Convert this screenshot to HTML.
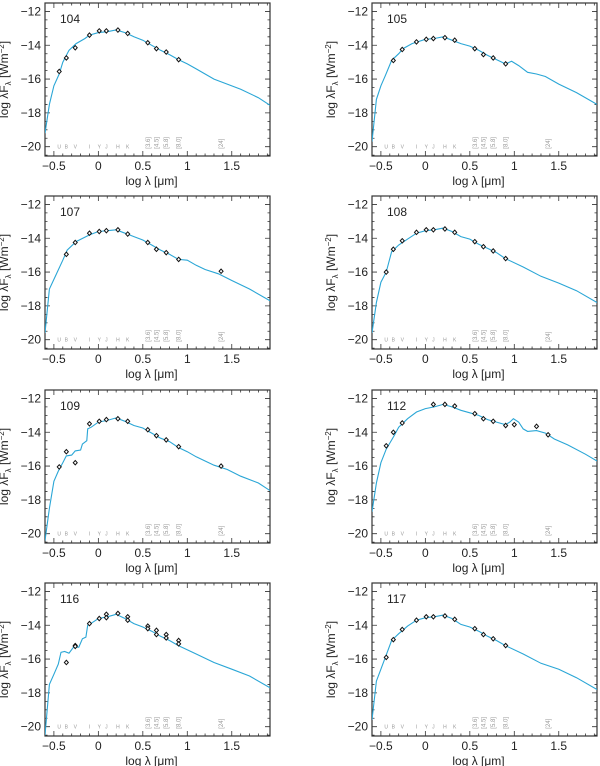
<!DOCTYPE html>
<html><head><meta charset="utf-8"><style>
html,body{margin:0;padding:0;background:#fff}
svg{display:block}
text{font-family:"Liberation Sans",sans-serif}
</style></head><body>
<svg id="fig" width="600" height="766" viewBox="0 0 600 766"></svg>
<script>
const bandLam = [-0.44,-0.36,-0.26,-0.1,0.01,0.09,0.22,0.33];
const bandNames = ["U","B","V","I","Y","J","H","K"];
const iracLam = [0.556,0.653,0.763,0.903,1.38];
const iracNames = ["[3.6]","[4.5]","[5.8]","[8.0]","[24]"];
const xTicks = [-0.5,0,0.5,1,1.5];
const xTickLabels = ["−0.5","0","0.5","1","1.5"];
const yTicks = [-12,-14,-16,-18,-20];
const yTickLabels = ["−12","−14","−16","−18","−20"];

const lam104 = [-0.6,-0.55,-0.5,-0.44,-0.4,-0.33,-0.25,-0.15,-0.1,0,0.1,0.2,0.3,0.4,0.5,0.6,0.7,0.8,0.9,1.0,1.1,1.2,1.3,1.4,1.6,1.8,1.93];
const flux104 = [-19.2,-17.5,-16.4,-15.7,-15,-14.3,-13.9,-13.6,-13.4,-13.25,-13.2,-13.1,-13.25,-13.5,-13.7,-14,-14.3,-14.55,-14.85,-15.1,-15.4,-15.7,-16.0,-16.2,-16.6,-17.1,-17.55];
const pLam104 = [-0.44,-0.36,-0.26,-0.1,0.01,0.09,0.22,0.33,0.556,0.653,0.763,0.903];
const pFlux104 = [-15.55,-14.75,-14.15,-13.4,-13.15,-13.15,-13.1,-13.3,-13.85,-14.2,-14.4,-14.85];

const lam105 = [-0.6,-0.55,-0.5,-0.45,-0.38,-0.3,-0.25,-0.15,0,0.1,0.2,0.3,0.4,0.5,0.6,0.7,0.8,0.9,0.97,1.05,1.15,1.25,1.35,1.5,1.7,1.93];
const flux105 = [-19.7,-17.2,-16.4,-15.8,-14.9,-14.5,-14.2,-13.9,-13.65,-13.6,-13.5,-13.7,-13.9,-14.05,-14.3,-14.6,-14.85,-15.1,-14.95,-15.2,-15.6,-15.7,-15.85,-16.3,-16.8,-17.5];
const pLam105 = [-0.36,-0.26,-0.1,0.01,0.09,0.22,0.33,0.556,0.653,0.763,0.903];
const pFlux105 = [-14.9,-14.25,-13.8,-13.65,-13.6,-13.55,-13.7,-14.2,-14.55,-14.75,-15.1];

const lam107 = [-0.6,-0.55,-0.48,-0.4,-0.35,-0.25,-0.1,0,0.1,0.2,0.3,0.4,0.5,0.6,0.7,0.8,0.9,1.0,1.1,1.2,1.35,1.5,1.7,1.93];
const flux107 = [-19.6,-17.0,-16.2,-15.3,-14.7,-14.2,-13.8,-13.6,-13.55,-13.5,-13.7,-13.9,-14.1,-14.4,-14.7,-14.95,-15.25,-15.3,-15.6,-15.85,-16.1,-16.5,-17.0,-17.7];
const pLam107 = [-0.36,-0.26,-0.1,0.01,0.09,0.22,0.33,0.556,0.653,0.763,0.903,1.38];
const pFlux107 = [-14.95,-14.25,-13.7,-13.6,-13.55,-13.5,-13.75,-14.25,-14.65,-14.85,-15.25,-15.95];

const lam108 = [-0.6,-0.55,-0.5,-0.44,-0.38,-0.3,-0.2,-0.1,0,0.1,0.2,0.3,0.4,0.5,0.6,0.7,0.8,0.9,1.1,1.3,1.5,1.7,1.93];
const flux108 = [-19.6,-17.8,-16.6,-16.0,-14.8,-14.4,-14.05,-13.7,-13.55,-13.5,-13.4,-13.6,-13.9,-14.05,-14.35,-14.6,-14.85,-15.2,-15.7,-16.25,-16.65,-17.1,-17.8];
const pLam108 = [-0.44,-0.36,-0.26,-0.1,0.01,0.09,0.22,0.33,0.556,0.653,0.763,0.903];
const pFlux108 = [-16.0,-14.65,-14.15,-13.65,-13.5,-13.5,-13.45,-13.65,-14.2,-14.5,-14.75,-15.2];

const lam109 = [-0.6,-0.55,-0.5,-0.45,-0.4,-0.36,-0.3,-0.26,-0.2,-0.18,-0.13,-0.12,-0.08,0,0.1,0.2,0.3,0.4,0.5,0.6,0.7,0.8,0.9,1.0,1.1,1.2,1.3,1.45,1.6,1.8,1.93];
const flux109 = [-20.4,-18.5,-16.9,-16.3,-15.8,-15.4,-15.35,-15.1,-15.05,-14.7,-14.5,-13.8,-13.7,-13.4,-13.3,-13.15,-13.35,-13.6,-13.75,-14.05,-14.35,-14.55,-14.9,-15.15,-15.45,-15.7,-15.95,-16.2,-16.6,-17.0,-17.45];
const pLam109 = [-0.44,-0.36,-0.26,-0.1,0.01,0.09,0.22,0.33,0.556,0.653,0.763,0.903,1.38];
const pFlux109 = [-16.05,-15.15,-15.8,-13.5,-13.35,-13.25,-13.2,-13.35,-13.85,-14.2,-14.45,-14.85,-16.0];

const lam112 = [-0.6,-0.55,-0.5,-0.44,-0.35,-0.3,-0.2,-0.1,0,0.1,0.2,0.3,0.4,0.5,0.6,0.7,0.8,0.9,0.95,0.99,1.05,1.1,1.15,1.25,1.35,1.45,1.6,1.8,1.93];
const flux112 = [-18.7,-17.0,-15.8,-15.0,-14.2,-13.7,-13.2,-12.8,-12.6,-12.5,-12.35,-12.5,-12.7,-12.85,-13.0,-13.25,-13.4,-13.55,-13.4,-13.2,-13.4,-13.8,-13.95,-13.9,-14.05,-14.4,-14.75,-15.3,-15.7];
const pLam112 = [-0.44,-0.36,-0.26,0.09,0.22,0.33,0.556,0.653,0.763,0.903,1.0,1.25,1.38];
const pFlux112 = [-14.8,-14.0,-13.45,-12.35,-12.35,-12.45,-12.9,-13.2,-13.35,-13.6,-13.55,-13.65,-14.15];

const lam116 = [-0.6,-0.55,-0.5,-0.45,-0.42,-0.38,-0.33,-0.28,-0.22,-0.18,-0.14,-0.12,-0.1,0,0.1,0.2,0.3,0.4,0.5,0.6,0.7,0.8,0.9,1.1,1.3,1.5,1.7,1.93];
const flux116 = [-20.5,-17.5,-16.9,-16.3,-15.6,-15.55,-15.65,-15.3,-15.3,-14.8,-14.7,-14.0,-13.95,-13.6,-13.5,-13.35,-13.6,-13.9,-14.1,-14.35,-14.65,-14.9,-15.2,-15.7,-16.2,-16.6,-17.0,-17.7];
const pLam116 = [-0.36,-0.26,-0.26,-0.1,0.01,0.09,0.09,0.22,0.33,0.33,0.556,0.556,0.653,0.653,0.763,0.763,0.903,0.903];
const pFlux116 = [-16.2,-15.2,-15.25,-13.9,-13.6,-13.35,-13.55,-13.3,-13.5,-13.7,-14.05,-14.2,-14.3,-14.55,-14.55,-14.75,-14.9,-15.1];

const lam117 = [-0.6,-0.55,-0.5,-0.45,-0.38,-0.3,-0.2,-0.1,0,0.1,0.2,0.3,0.4,0.5,0.6,0.7,0.8,0.9,1.1,1.3,1.5,1.7,1.93];
const flux117 = [-19.6,-17.3,-16.6,-15.9,-14.9,-14.5,-14.05,-13.7,-13.55,-13.5,-13.4,-13.6,-13.95,-14.1,-14.35,-14.65,-14.9,-15.2,-15.7,-16.25,-16.6,-17.1,-17.8];
const pLam117 = [-0.44,-0.36,-0.26,-0.1,0.01,0.09,0.22,0.33,0.556,0.653,0.763,0.903];
const pFlux117 = [-15.9,-14.85,-14.25,-13.7,-13.5,-13.5,-13.45,-13.65,-14.2,-14.55,-14.8,-15.2];

const panelIds = ["104","105","107","108","109","112","116","117"];
const panelCurves = [[lam104,flux104],[lam105,flux105],[lam107,flux107],[lam108,flux108],[lam109,flux109],[lam112,flux112],[lam116,flux116],[lam117,flux117]];
const panelPhot = [[pLam104,pFlux104],[pLam105,pFlux105],[pLam107,pFlux107],[pLam108,pFlux108],[pLam109,pFlux109],[pLam112,pFlux112],[pLam116,pFlux116],[pLam117,pFlux117]];

const NS="http://www.w3.org/2000/svg";
const svg=document.getElementById('fig');
function mk(tag,attrs,parent){const e=document.createElementNS(NS,tag);for(const k in attrs)e.setAttribute(k,attrs[k]);(parent||svg).appendChild(e);return e;}
const colX=[45,372], rowY=[3,196,390,583], W=225, H=153;
const XMIN=-0.6, XMAX=1.93, YMAX=-11.5, YMIN=-20.55;

panelIds.forEach((id,i)=>{
  const ox=colX[i%2], oy=rowY[Math.floor(i/2)];
  const sx=v=>ox+(v-XMIN)/(XMAX-XMIN)*W;
  const sy=v=>oy+(YMAX-v)/(YMAX-YMIN)*H;
  const g=mk('g',{});
  
  
  const clipId='clip'+id;
  const cp=mk('clipPath',{id:clipId},g);
  mk('rect',{x:ox,y:oy,width:W,height:H},cp);
  let d='';
  for(let k=-6;k<=19;k++){const v=k/10;if(v<XMIN||v>XMAX)continue;const L=(k%5===0)?5:2.5;const x=sx(v);d+=`M${x} ${oy+H}v${-L}M${x} ${oy}v${L}`;}
  for(let k=-41;k<=-23;k++){const v=k/2;if(v<YMIN||v>YMAX)continue;const L=(k%4===0)?5:2.5;const y=sy(v);d+=`M${ox} ${y}h${L}M${ox+W} ${y}h${-L}`;}
  const ticks=mk('path',{d:d,stroke:'#333','stroke-width':0.8,fill:'none'},g);
  
  
  const frame=mk('rect',{x:ox,y:oy,width:W,height:H,fill:'none',stroke:'#333','stroke-width':1.2},g);
  
  
  xTicks.forEach((v,j)=>{const t=mk('text',{x:sx(v),y:oy+H+14,'font-size':12,'text-anchor':'middle',fill:'#222'},g);t.textContent=xTickLabels[j];
    
    });
  yTicks.forEach((v,j)=>{const t=mk('text',{x:ox-4,y:sy(v)+4,'font-size':12,'text-anchor':'end',fill:'#222'},g);t.textContent=yTickLabels[j];
    
    });
  const xt=mk('text',{x:ox+W/2-6,y:oy+H+29,'font-size':12,'text-anchor':'middle',fill:'#222'},g);
  xt.textContent='log λ [μm]';
  
  
  const yx=ox-37, yc=oy+H/2;
  const yt=mk('text',{x:yx,y:yc,'font-size':12,'text-anchor':'middle',fill:'#222',transform:`rotate(-90 ${yx} ${yc})`},g);
  yt.innerHTML='log λF<tspan font-size="8" dy="3">λ</tspan><tspan dy="-3"> [Wm</tspan><tspan font-size="8" dy="-4">−2</tspan><tspan dy="4">]</tspan>';
  
  
  const lab=mk('text',{x:ox+15,y:oy+20,'font-size':12,fill:'#222'},g);
  lab.textContent=id;
  
  
  bandLam.forEach((v,j)=>{const t=mk('text',{x:sx(v),y:sy(-20)+2,'font-size':5,'text-anchor':'middle',fill:'#999'},g);t.textContent=bandNames[j];
    
    });
  iracLam.forEach((v,j)=>{const x=sx(v),y=sy(-20)+2;const t=mk('text',{x:x+2,y:y,'font-size':6,fill:'#999',transform:`rotate(-90 ${x+2} ${y})`},g);t.textContent=iracNames[j];
    
    });
  const [cl,cf]=panelCurves[i];
  const pts=cl.map((v,j)=>sx(v).toFixed(1)+','+sy(cf[j]).toFixed(1)).join(' ');
  const line=mk('polyline',{points:pts,fill:'none',stroke:'#2aa6d6','stroke-width':1.1,'clip-path':`url(#${clipId})`},g);
  
  
  const [pl,pf]=panelPhot[i];
  pl.forEach((v,j)=>{const x=sx(v),y=sy(pf[j]);
    const m=mk('path',{d:`M${x} ${y-2.2}L${x+2} ${y}L${x} ${y+2.2}L${x-2} ${y}Z`,fill:'#fff',stroke:'#111','stroke-width':1},g);
    
    });
});
</script>
</body></html>
